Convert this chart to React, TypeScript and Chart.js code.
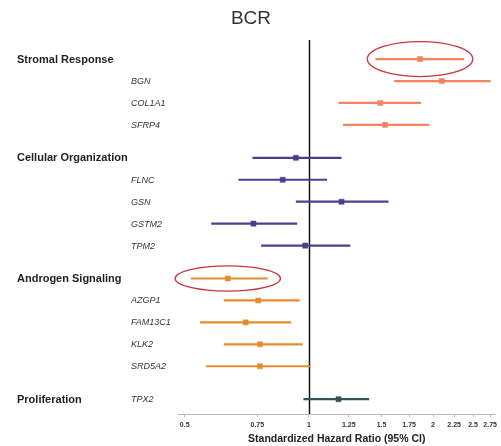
import React, { useEffect, useRef } from "react";
import { Chart, registerables } from "chart.js";

Chart.register(...registerables);

const chartTitle = "BCR";
const axisTitle = "Standardized Hazard Ratio (95% CI)";
const groupNames = ["Stromal Response", "Cellular Organization", "Androgen Signaling", "Proliferation"];
const groupPos = [0, 4.5, 10, 15.5];
const groupColors = ["#F3845C", "#48408F", "#E48C2C", "#2F5556"];

const rowLabels = ["", "BGN", "COL1A1", "SFRP4", "", "FLNC", "GSN", "GSTM2", "TPM2", "", "AZGP1", "FAM13C1", "KLK2", "SRD5A2", "TPX2"];
const rowPos = [0, 1, 2, 3, 4.5, 5.5, 6.5, 7.5, 8.5, 10, 11, 12, 13, 14, 15.5];
const rowGroup = [0, 0, 0, 0, 1, 1, 1, 1, 1, 2, 2, 2, 2, 2, 3];
const hazard = [1.86, 2.1, 1.49, 1.53, 0.93, 0.864, 1.2, 0.734, 0.98, 0.636, 0.754, 0.703, 0.761, 0.761, 1.18];
const lower = [1.45, 1.61, 1.18, 1.21, 0.73, 0.675, 0.93, 0.58, 0.766, 0.518, 0.622, 0.545, 0.622, 0.563, 0.97];
const upper = [2.38, 2.76, 1.87, 1.96, 1.2, 1.107, 1.56, 0.937, 1.26, 0.795, 0.95, 0.906, 0.966, 1.01, 1.4];
const highlightRows = [0, 9];
const tickValues = [0.5, 0.75, 1, 1.25, 1.5, 1.75, 2, 2.25, 2.5, 2.75];
const tickLabels = ["0.5", "0.75", "1", "1.25", "1.5", "1.75", "2", "2.25", "2.5", "2.75"];

const forestPlugin = {
  id: "forest",
  beforeDatasetsDraw(chart: any) {
    const { ctx, chartArea, scales } = chart;
    const xs = scales.x;
    const ys = scales.y;
    ctx.save();
    const x1 = Math.round(xs.getPixelForValue(1)) + 0.5;
    ctx.strokeStyle = "#111";
    ctx.lineWidth = 1.5;
    ctx.beginPath();
    ctx.moveTo(x1, chartArea.top);
    ctx.lineTo(x1, chartArea.bottom);
    ctx.stroke();
    ctx.lineWidth = 2.2;
    for (let i = 0; i < rowPos.length; i++) {
      const y = ys.getPixelForValue(rowPos[i]);
      ctx.strokeStyle = groupColors[rowGroup[i]];
      ctx.beginPath();
      ctx.moveTo(xs.getPixelForValue(lower[i]), y);
      ctx.lineTo(xs.getPixelForValue(upper[i]), y);
      ctx.stroke();
    }
    ctx.restore();
  },
  afterDatasetsDraw(chart: any) {
    const { ctx, scales } = chart;
    const xs = scales.x;
    const ys = scales.y;
    ctx.save();
    ctx.strokeStyle = "#D0323C";
    ctx.lineWidth = 1.3;
    highlightRows.forEach((r, k) => {
      const cx = xs.getPixelForValue(hazard[r]);
      const cy = ys.getPixelForValue(rowPos[r]);
      const ry = k === 0 ? 17.5 : 12.7;
      ctx.beginPath();
      ctx.ellipse(cx, cy, 52.7, ry, 0, 0, Math.PI * 2);
      ctx.stroke();
    });
    ctx.fillStyle = "#222";
    ctx.textBaseline = "middle";
    ctx.textAlign = "left";
    ctx.font = "bold 11px 'Liberation Sans', Arial, sans-serif";
    groupNames.forEach((g, i) => {
      ctx.fillText(g, 17, ys.getPixelForValue(groupPos[i]) + 0.5);
    });
    ctx.fillStyle = "#333";
    ctx.font = "italic 9px 'Liberation Sans', Arial, sans-serif";
    rowLabels.forEach((l, i) => {
      if (l) ctx.fillText(l, 131, ys.getPixelForValue(rowPos[i]) + 0.5);
    });
    ctx.fillStyle = "#333";
    ctx.textAlign = "center";
    ctx.font = "19px 'Liberation Sans', Arial, sans-serif";
    ctx.fillText(chartTitle, 251, 19);
    ctx.restore();
  },
};

export default function App() {
  const ref = useRef<HTMLCanvasElement>(null);
  useEffect(() => {
    document.body.style.margin = "0";
    const datasets = groupNames.map((g, gi) => ({
      label: g,
      data: rowPos
        .map((p, i) => ({ x: hazard[i], y: p, g: rowGroup[i] }))
        .filter((d) => d.g === gi)
        .map((d) => ({ x: d.x, y: d.y })),
      pointStyle: "rect",
      pointRadius: 3.6,
      backgroundColor: groupColors[gi],
      borderColor: groupColors[gi],
      borderWidth: 0.5,
    }));
    const chart = new Chart(ref.current as HTMLCanvasElement, {
      type: "scatter",
      data: { datasets },
      plugins: [forestPlugin],
      options: {
        animation: false,
        responsive: true,
        maintainAspectRatio: false,
        layout: { padding: { left: 178, right: 4, top: 40, bottom: 2 } },
        plugins: { legend: { display: false }, tooltip: { enabled: false }, title: { display: false } },
        scales: {
          x: {
            type: "logarithmic",
            min: 0.4817,
            max: 2.834,
            afterBuildTicks: (scale: any) => {
              scale.ticks = tickValues.map((v) => ({ value: v }));
            },
            ticks: {
              autoSkip: false,
              maxRotation: 0,
              padding: 4,
              color: "#333",
              font: { size: 7, weight: "bold", family: "'Liberation Sans', Arial, sans-serif" },
              callback: (v: any) => {
                const i = tickValues.indexOf(Number(v));
                return i >= 0 ? tickLabels[i] : "";
              },
            },
            grid: { drawOnChartArea: false, drawTicks: true, tickLength: 3, color: "#BBBBBB" },
            border: { color: "#BBBBBB", width: 1 },
            title: {
              display: true,
              text: axisTitle,
              color: "#222",
              padding: { top: 0, bottom: 0 },
              font: { size: 10.5, weight: "bold", lineHeight: 1, family: "'Liberation Sans', Arial, sans-serif" },
            },
          },
          y: {
            type: "linear",
            reverse: true,
            min: -0.87,
            max: 16.18,
            display: false,
          },
        },
      },
    } as any);
    return () => chart.destroy();
  }, []);
  return (
    <div style={{ position: "absolute", left: 0, top: 0, width: 501, height: 446 }}>
      <canvas ref={ref} />
    </div>
  );
}
